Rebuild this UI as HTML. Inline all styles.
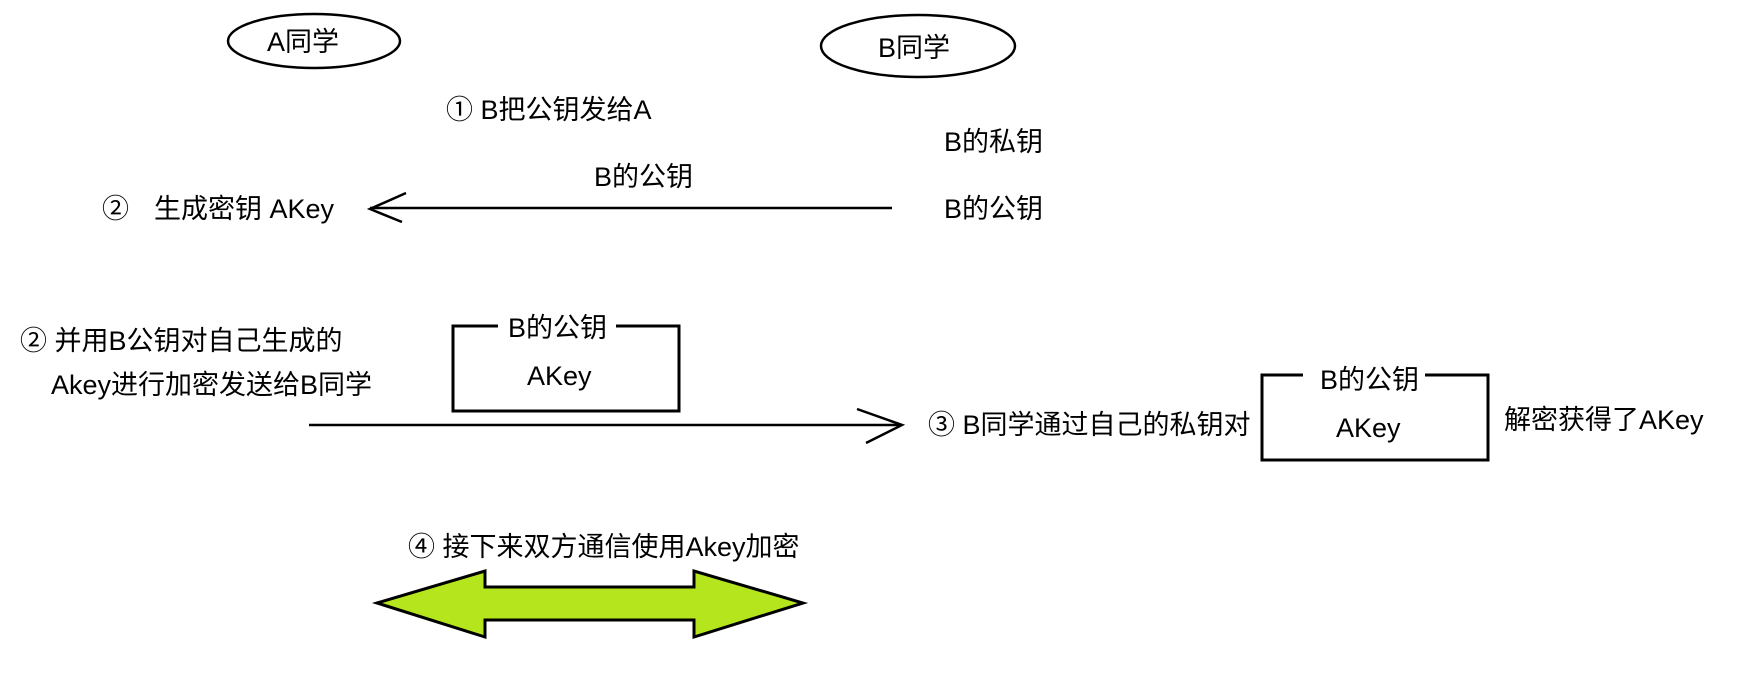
<!DOCTYPE html>
<html><head><meta charset="utf-8"><style>
html,body{margin:0;padding:0;background:#fff;width:1747px;height:686px;overflow:hidden}
svg text{font-family:"Liberation Sans","Noto Sans CJK SC",sans-serif;font-size:27px;fill:#000}
</style></head><body>
<svg width="1747" height="686" viewBox="0 0 1747 686" xmlns="http://www.w3.org/2000/svg">
<ellipse cx="314" cy="41" rx="86" ry="27" fill="none" stroke="#000" stroke-width="2.5"/>
<ellipse cx="918" cy="46" rx="97" ry="31" fill="none" stroke="#000" stroke-width="2.5"/>
<text x="267" y="51">A同学</text>
<text x="878" y="57">B同学</text>
<text x="446" y="119">① B把公钥发给A</text>
<text x="944" y="151">B的私钥</text>
<text x="594" y="186">B的公钥</text>
<text x="944" y="218">B的公钥</text>
<text x="102" y="218">②</text>
<text x="154" y="218">生成密钥 AKey</text>
<line x1="370" y1="208" x2="892" y2="208" stroke="#000" stroke-width="2.5"/>
<polyline points="406,193 370,209 402,222" fill="none" stroke="#000" stroke-width="2.5"/>
<text x="20" y="350">② 并用B公钥对自己生成的</text>
<text x="51" y="394">Akey进行加密发送给B同学</text>
<path d="M498,326 H453 V411 H679 V326 H616" fill="none" stroke="#000" stroke-width="3"/>
<text x="508" y="337">B的公钥</text>
<text x="527" y="385">AKey</text>
<line x1="309" y1="425" x2="900" y2="425" stroke="#000" stroke-width="2.5"/>
<polyline points="857,409 902,425 866,443" fill="none" stroke="#000" stroke-width="2.5"/>
<text x="928" y="434">③ B同学通过自己的私钥对</text>
<path d="M1303,375 H1262 V460 H1488 V375 H1425" fill="none" stroke="#000" stroke-width="3"/>
<text x="1320" y="389">B的公钥</text>
<text x="1336" y="437">AKey</text>
<text x="1504" y="429">解密获得了AKey</text>
<text x="408" y="556">④ 接下来双方通信使用Akey加密</text>
<polygon points="377,603 485,571 485,587 694,587 694,571 803,603 694,637 694,620 485,620 485,637" fill="#b5e61d" stroke="#000" stroke-width="3" stroke-linejoin="miter"/>
</svg>
</body></html>
